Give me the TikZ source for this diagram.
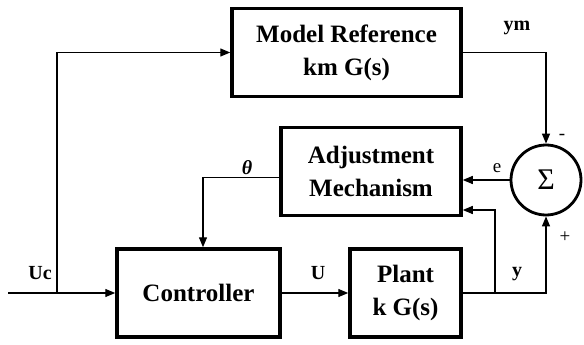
\documentclass[tikz,border=0pt]{standalone}
\usepackage{fontspec}
\setmainfont{Liberation Serif}
\usepackage{tikz}
\usetikzlibrary{arrows.meta}

\begin{document}
\begin{tikzpicture}[x=1pt,y=-1pt]
         \tikzset{block/.style={draw,line width=3.5pt,minimum width=229pt,minimum height=88pt,align=center,
                  font=\bfseries\fontsize{25}{33}\selectfont}}
         \tikzset{sumnode/.style={draw,circle,line width=2.8pt,minimum size=70pt,inner sep=0pt,
                  font=\fontsize{30}{30}\selectfont}}
         \tikzset{lbl/.style={font=\bfseries\fontsize{20}{20}\selectfont,inner sep=0pt}}
         \tikzset{sgn/.style={font=\fontsize{19}{19}\selectfont,inner sep=0pt}}
         \tikzset{every path/.style={line width=1.3pt},>={Triangle[length=10pt,width=8pt]}}
         \useasboundingbox (0,0) rectangle (584,345);
         % blocks
         \node[block] (model) at (346.5,52.5) {Model Reference\\km G(s)};
         \node[block,minimum width=180pt] (adj) at (371,171.5) {Adjustment\\Mechanism};
         \node[block,minimum width=163pt] (ctrl) at (198.5,293) {Controller};
         \node[block,minimum width=111pt] (plant) at (405.5,293) {Plant\\k G(s)};
         \node[sumnode] (sum) at (546,180) {Σ};
         % branch points
         \coordinate (in) at (8,293);
         \coordinate (ucb) at (57,293);
         \coordinate (yb) at (495,293);
         % signals
         \draw[->] (in) -- (ctrl.west);
         \draw[->] (ucb) |- (model.west);
         \draw[->] (ctrl.east) -- (plant.west);
         \draw[->] (plant.east) -| (sum.south);
         \draw[->] (model.east) -| (sum.north);
         \draw[->] (sum.west) -- (sum.west -| adj.east);
         \draw[->] (yb) |- ([yshift=-38.5pt]adj.east);
         \draw[->] ([yshift=-6pt]adj.west) -| ([xshift=4.5pt]ctrl.north);
         % labels
         \node[lbl] (uclbl) at (40,273) {Uc};
         \node[lbl] (ulbl) at (318,273) {U};
         \node[lbl] (ylbl) at (517,274) {y};
         \node[lbl] (ymlbl) at (517,28) {ym};
         \node[lbl] (thlbl) at (247,168) {\itshape θ};
         \node[sgn] (elbl) at (497,168) {e};
         \node[sgn] (minus) at (562,137) {-};
         \node[sgn] (plus) at (565,237) {+};
\end{tikzpicture}
\end{document}
